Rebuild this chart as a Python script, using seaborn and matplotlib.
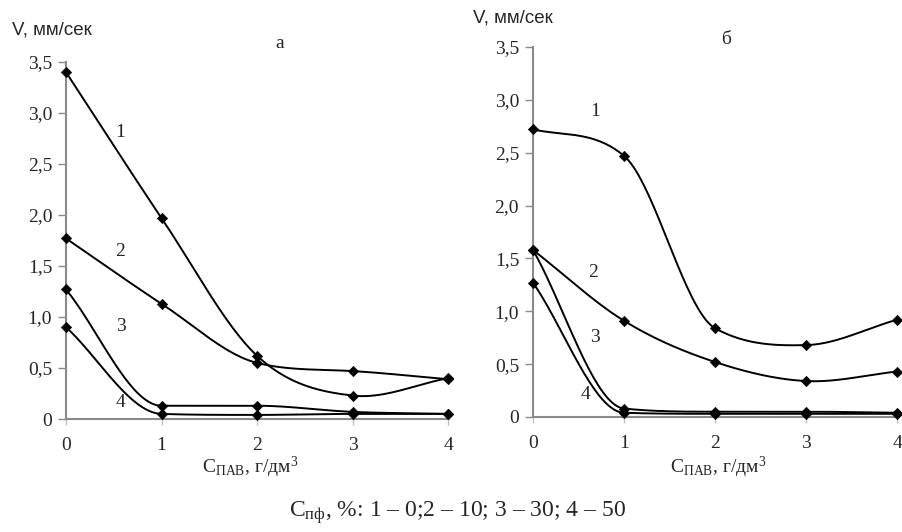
import numpy as np
import pandas as pd
import matplotlib
matplotlib.use("Agg")
import matplotlib.pyplot as plt
import seaborn as sns

# -------------------------
# Data
# -------------------------
c_pav = [0, 1, 2, 3, 4]

# panel "а"
a_curve1 = [3.40, 1.97, 0.62, 0.23, 0.40]
a_curve2 = [1.77, 1.13, 0.55, 0.47, 0.39]
a_curve3 = [1.27, 0.13, 0.13, 0.07, 0.05]
a_curve4 = [0.90, 0.05, 0.04, 0.05, 0.05]

# panel "б"
b_curve1 = [2.72, 2.47, 0.84, 0.68, 0.92]
b_curve2 = [1.58, 0.91, 0.52, 0.34, 0.43]
b_curve3 = [1.58, 0.08, 0.05, 0.05, 0.04]
b_curve4 = [1.27, 0.04, 0.03, 0.03, 0.03]

y_ticks = [0, 0.5, 1.0, 1.5, 2.0, 2.5, 3.0, 3.5]
y_tick_labels = ['0', '0,5', '1,0', '1,5', '2,0', '2,5', '3,0', '3,5']
x_tick_labels = ['0', '1', '2', '3', '4']

sns.set_style("white")
plt.rcParams['font.family'] = ['Liberation Serif', 'DejaVu Serif']
plt.rcParams['mathtext.fontset'] = 'custom'
plt.rcParams['mathtext.rm'] = 'Liberation Serif'
plt.rcParams['mathtext.it'] = 'Liberation Serif:italic'
plt.rcParams['mathtext.bf'] = 'Liberation Serif:bold'


def smooth(xs, ys, n=40):
    # smoothed line: cardinal tangents, limited so flat parts stay flat
    x = np.asarray(xs, float)
    y = np.asarray(ys, float)
    h = np.diff(x)
    d = np.diff(y) / h
    m = np.zeros_like(y)
    m[0], m[-1] = d[0], d[-1]
    m[1:-1] = (y[2:] - y[:-2]) / (x[2:] - x[:-2])
    for k in range(len(d)):
        if abs(d[k]) < 1e-9:
            m[k] = m[k + 1] = 0.0
            continue
        a, b = m[k] / d[k], m[k + 1] / d[k]
        r = a * a + b * b
        if r > 9:
            t = 3 / np.sqrt(r)
            m[k], m[k + 1] = t * a * d[k], t * b * d[k]
    xx, yy = [], []
    for k in range(len(d)):
        t = np.linspace(0, 1, n)
        h00 = 2 * t**3 - 3 * t**2 + 1
        h10 = t**3 - 2 * t**2 + t
        h01 = -2 * t**3 + 3 * t**2
        h11 = t**3 - t**2
        seg = h00 * y[k] + h10 * h[k] * m[k] + h01 * y[k + 1] + h11 * h[k] * m[k + 1]
        xs_seg = x[k] + t * h[k]
        if k > 0:
            seg, xs_seg = seg[1:], xs_seg[1:]
        xx.extend(xs_seg)
        yy.extend(seg)
    return pd.DataFrame({'x': xx, 'y': yy})


def draw_panel(ax, curves, labels_pos):
    for vals in curves:
        sm = smooth(c_pav, vals)
        sns.lineplot(data=sm, x='x', y='y', ax=ax, sort=False, estimator=None,
                     color='black', linewidth=1.4)
        pts = pd.DataFrame({'x': c_pav, 'y': vals})
        sns.scatterplot(data=pts, x='x', y='y', ax=ax, marker='D', s=28,
                        color='black', edgecolor='black', clip_on=False, zorder=5)
    for i, (lx, ly) in enumerate(labels_pos):
        ax.text(lx, ly, str(i + 1), fontsize=14, ha='center', va='center')
    ax.set_xlim(0, 4)
    ax.set_ylim(0, 3.5)
    ax.set_xticks(c_pav)
    ax.set_xticklabels(x_tick_labels, fontsize=14)
    ax.set_yticks(y_ticks)
    ax.set_yticklabels(y_tick_labels, fontsize=14)
    ax.set_xlabel('')
    ax.set_ylabel('')
    for s in ['top', 'right']:
        ax.spines[s].set_visible(False)
    for s in ['left', 'bottom']:
        ax.spines[s].set_color('#8a8a8a')
        ax.spines[s].set_linewidth(1.5)
    ax.tick_params(axis='y', which='major', direction='out', length=6,
                   width=1.0, color='#8a8a8a', pad=4, left=True)
    ax.tick_params(axis='x', which='major', direction='out', length=4,
                   width=1.0, color='#c0c0c0', pad=9, bottom=True)
    ax.set_facecolor('none')


fig = plt.figure(figsize=(9.02, 5.32), dpi=100)
ax_a = fig.add_axes([0.0732, 0.2124, 0.4235, 0.671])
ax_b = fig.add_axes([0.5909, 0.2162, 0.4036, 0.6955])

draw_panel(ax_a, [a_curve1, a_curve2, a_curve3, a_curve4],
           [(0.57, 2.81), (0.57, 1.64), (0.57, 0.91), (0.57, 0.16)])
draw_panel(ax_b, [b_curve1, b_curve2, b_curve3, b_curve4],
           [(0.68, 2.89), (0.66, 1.37), (0.68, 0.75), (0.58, 0.21)])

# axis titles and panel letters
fig.text(12 / 902, 1 - 30 / 532, 'V, мм/сек', family=['Liberation Sans', 'DejaVu Sans'],
         fontsize=13.5, ha='left', va='center')
fig.text(473 / 902, 1 - 18 / 532, 'V, мм/сек', family=['Liberation Sans', 'DejaVu Sans'],
         fontsize=13.5, ha='left', va='center')
fig.text(280 / 902, 1 - 43 / 532, 'а', fontsize=14, ha='center', va='center')
fig.text(726 / 902, 1 - 40 / 532, 'б', fontsize=14, ha='center', va='center')

xlab = r'C$_{\mathrm{ПАВ}}$, г/дм$^{3}$'
fig.text(250 / 902, 1 - 467 / 532, xlab, fontsize=14, ha='center', va='center')
fig.text(718 / 902, 1 - 467 / 532, xlab, fontsize=14, ha='center', va='center')

fig.text(458 / 902, 1 - 513 / 532, r'C$_{\mathrm{пф}}$, %: 1 – 0;2 – 10; 3 – 30; 4 – 50',
         fontsize=17, ha='center', va='center')

fig.savefig('out.png', dpi=100)
